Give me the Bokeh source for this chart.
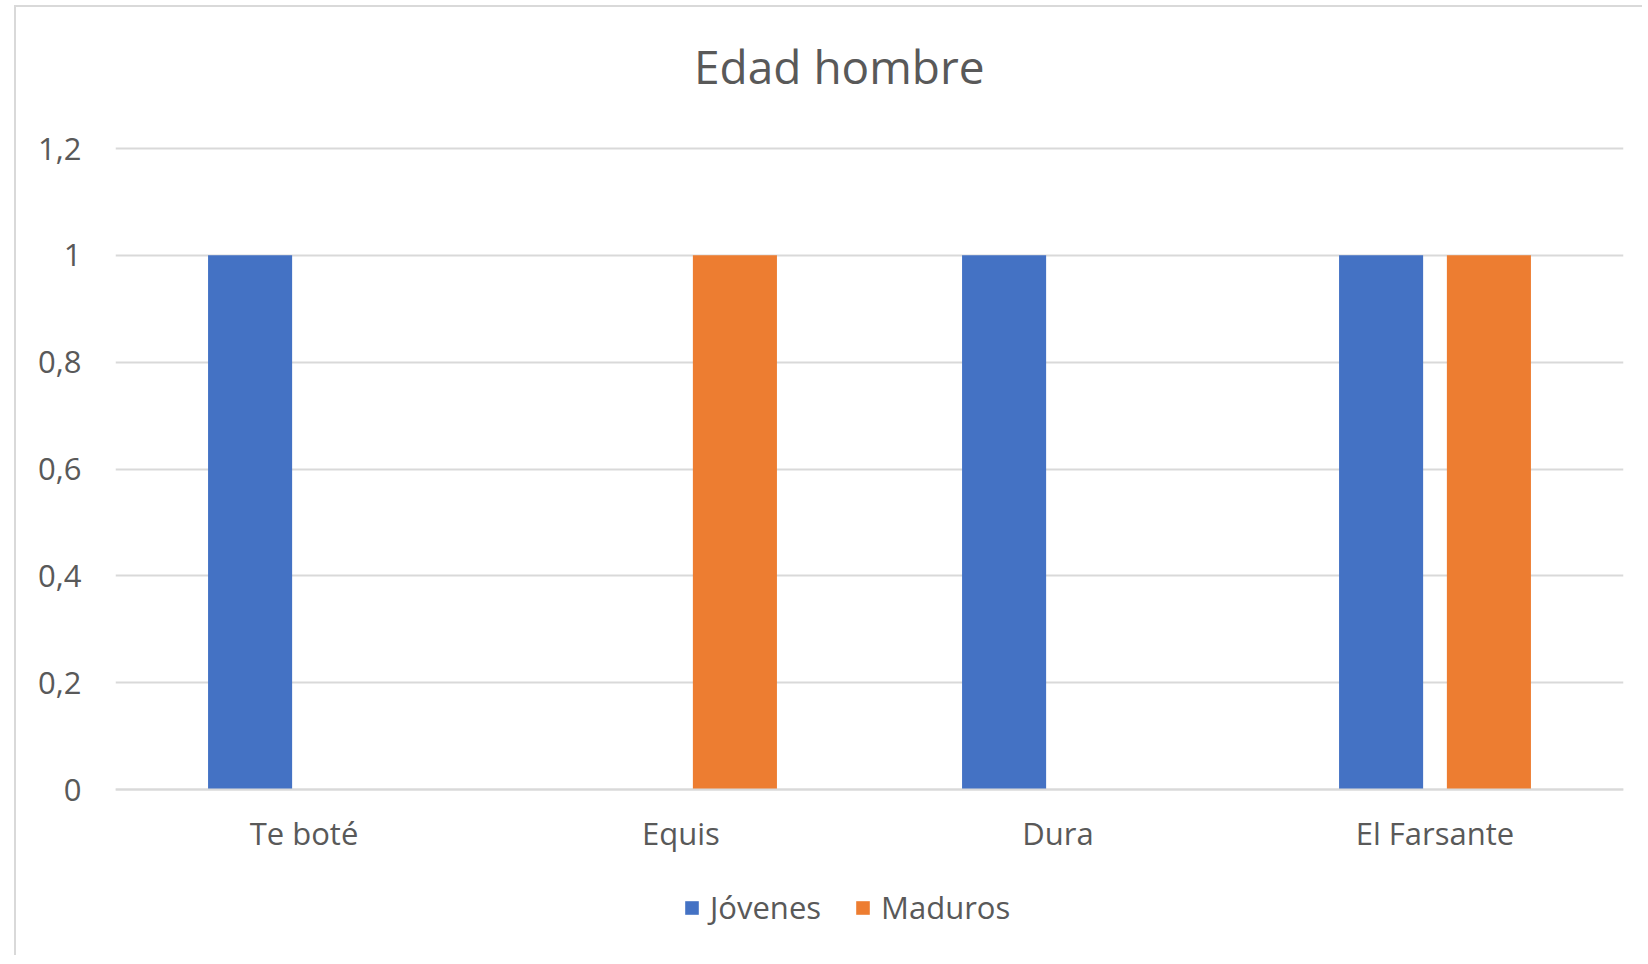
from bokeh.plotting import figure
from bokeh.models import (ColumnDataSource, FactorRange, Range1d, FixedTicker, CustomJSTickFormatter,
                          Legend, LegendItem, Label, CategoricalAxis)
from bokeh.transform import dodge
from bokeh.embed import file_html
from bokeh.resources import INLINE

# ---- data ----
categories = ["Te boté", "Equis", "Dura", "El Farsante"]
jovenes = [1, 0, 1, 1]
maduros = [0, 1, 0, 1]
y_ticks = [0, 0.2, 0.4, 0.6, 0.8, 1, 1.2]
title_text = "Edad hombre"
series_names = ["Jóvenes", "Maduros"]

FONT = "Open Sans"
TXT = "#595959"
GRID = "#d9d9d9"
BLUE = "#4472C4"
ORANGE = "#ED7D31"

W, H = 1628, 950
L, R = 99, 21
# y range chosen so that 0 and 1.2 land where the reference has them
Y0, Y1 = -0.3145, 1.4640

src = ColumnDataSource(dict(cat=categories, jov=jovenes, mad=maduros))

p = figure(width=W, height=H, x_range=FactorRange(*categories), y_range=Range1d(Y0, Y1),
           output_backend="svg", toolbar_location=None, x_axis_location=None,
           min_border_left=L, min_border_right=R, min_border_top=0, min_border_bottom=0)
p.outline_line_color = None
p.background_fill_color = "white"
p.border_fill_color = "white"
p.styles = {"border-left": "2px solid #d9d9d9", "border-top": "2px solid #d9d9d9",
            "margin-left": "14px", "margin-top": "5px"}

r1 = p.vbar(x=dodge("cat", -0.143, range=p.x_range), top="jov", width=0.223, source=src,
            color=BLUE, line_color=None)
r2 = p.vbar(x=dodge("cat", 0.143, range=p.x_range), top="mad", width=0.223, source=src,
            color=ORANGE, line_color=None)

p.xgrid.grid_line_color = None
p.ygrid.grid_line_color = GRID
p.ygrid.grid_line_width = 2
p.ygrid.ticker = FixedTicker(ticks=y_ticks)
p.yaxis.ticker = FixedTicker(ticks=y_ticks)
p.yaxis.formatter = CustomJSTickFormatter(code="return String(Math.round(tick*10)/10).replace('.', ',');")
p.yaxis.axis_line_color = None
p.yaxis.major_tick_line_color = None
p.yaxis.minor_tick_line_color = None
p.yaxis.major_label_standoff = 28
p.yaxis.major_label_text_font = FONT
p.yaxis.major_label_text_font_size = "31px"
p.yaxis.major_label_text_color = TXT

xaxis = CategoricalAxis(fixed_location=0)
xaxis.axis_line_color = GRID
xaxis.axis_line_width = 2
xaxis.major_tick_line_color = None
xaxis.minor_tick_line_color = None
xaxis.major_label_standoff = 16
xaxis.major_label_text_font = FONT
xaxis.major_label_text_font_size = "31px"
xaxis.major_label_text_color = TXT
p.add_layout(xaxis, "below")

# title
p.add_layout(Label(x=1.92, y=1.3553, text=title_text, text_align="center", text_baseline="alphabetic",
                   text_font=FONT, text_font_size="46px", text_color=TXT))

# legend
legend = Legend(items=[LegendItem(label=series_names[0], renderers=[r1]),
                       LegendItem(label=series_names[1], renderers=[r2])],
                orientation="horizontal", location=(568, 29),
                glyph_width=17, glyph_height=17, label_standoff=10, spacing=33,
                padding=0, margin=0, border_line_color=None, background_fill_alpha=0,
                label_text_font=FONT, label_text_font_size="31px", label_text_color=TXT)
p.add_layout(legend, "center")

open("out.html", "w").write(file_html(p, INLINE))
